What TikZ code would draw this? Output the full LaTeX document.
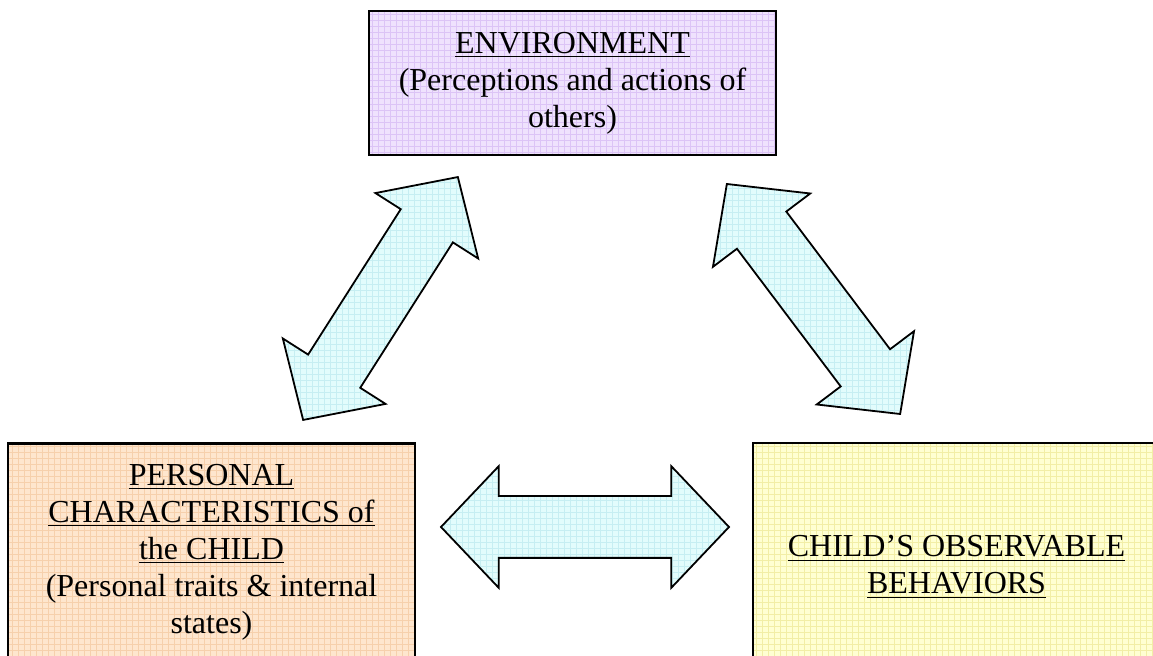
\documentclass[tikz,border=0pt]{standalone}
\usepackage{fontspec}
\setmainfont{Liberation Serif}
\usetikzlibrary{shapes.arrows, patterns, positioning}

\definecolor{envfill}{HTML}{EFE2FD}
\definecolor{envgrid}{HTML}{DCC4F6}
\definecolor{persfill}{HTML}{FEE6CE}
\definecolor{persgrid}{HTML}{F6D0AC}
\definecolor{behfill}{HTML}{FFFFD2}
\definecolor{behgrid}{HTML}{F2EEA6}
\definecolor{arrfill}{HTML}{E2FCFC}
\definecolor{arrgrid}{HTML}{C6EEF2}

\begin{document}
\begin{tikzpicture}[
  x=0.5pt, y=-0.5pt,
  box/.style={draw, line width=1.1pt, minimum width=203.5pt, inner sep=0pt, align=center,
    font=\fontsize{16}{18.5}\selectfont},
  fatarrow/.style={shape=double arrow, draw, line width=0.9pt, minimum height=144pt,
    inner xsep=0pt, inner ysep=15pt, double arrow head extend=15pt, double arrow tip angle=93,
    preaction={fill=arrfill}, pattern=grid, pattern color=arrgrid}
]
\clip (0,0) rectangle (1153,656);

% Boxes
\node[box, minimum height=72pt, preaction={fill=envfill}, pattern=grid, pattern color=envgrid]
  (env) at (572.5,83) {\underline{ENVIRONMENT}\\(Perceptions and actions of\\others)};
\node[box, minimum height=109pt, preaction={fill=persfill}, pattern=grid, pattern color=persgrid]
  (child) at (211.5,552.5) {\underline{PERSONAL}\\\underline{CHARACTERISTICS of}\\\underline{the CHILD}\\(Personal traits \& internal\\states)};
\node[box, minimum height=124pt, preaction={fill=behfill}, pattern=grid, pattern color=behgrid]
  (behav) at (956.5,567) {\underline{CHILD’S OBSERVABLE}\\\underline{BEHAVIORS}};

% Arrows
\node[fatarrow, rotate=57.5] (envchild) at (380.5,298.5) {};
\node[fatarrow, rotate=-53] (envbehav) at (813.5,299) {};
\node[fatarrow] (childbehav) at (585,527) {};
\end{tikzpicture}
\end{document}
